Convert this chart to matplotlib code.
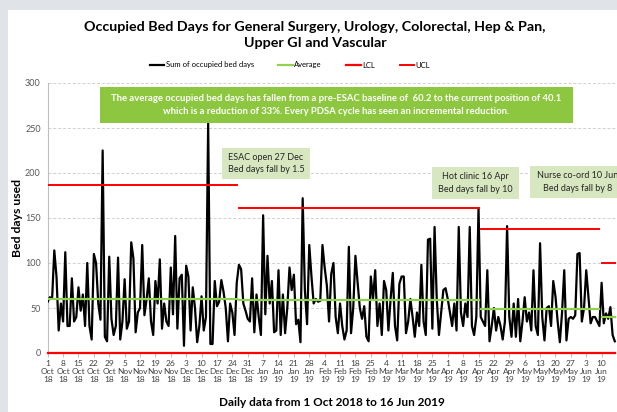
import numpy as np
import pandas as pd
import matplotlib
matplotlib.use('Agg')
import matplotlib.pyplot as plt
from matplotlib.patches import Rectangle

plt.rcParams['font.family'] = ['Lato', 'DejaVu Sans']

# daily data, 1 Oct 2018 - 16 Jun 2019
dates = pd.date_range('2018-10-01', '2019-06-16', freq='D')

beds_oct = [57, 62, 60, 114, 85, 25, 55, 35, 112, 30, 30, 83, 35, 40, 73, 47,
            65, 30, 100, 30, 15, 110, 100, 55, 37, 225, 18, 13, 107, 38, 20]
beds_nov = [30, 106, 15, 35, 82, 27, 35, 123, 105, 23, 45, 50, 120, 42, 60,
            83, 35, 20, 80, 55, 104, 27, 55, 35, 30, 95, 43, 130, 27, 83]
beds_dec = [87, 8, 97, 85, 25, 73, 50, 12, 30, 63, 25, 40, 255, 10, 10, 80,
            52, 57, 81, 68, 50, 13, 55, 45, 20, 78, 98, 93, 55, 47, 38]
beds_jan = [35, 83, 23, 65, 40, 20, 153, 43, 108, 55, 80, 23, 25, 92, 20, 65,
            22, 50, 95, 70, 87, 32, 37, 12, 172, 70, 32, 120, 85, 55, 60]
beds_feb = [57, 58, 120, 95, 75, 35, 88, 100, 40, 22, 55, 30, 15, 25, 118, 22,
            50, 108, 78, 50, 38, 52, 18, 13, 85, 60, 92, 30]
beds_mar = [55, 20, 80, 70, 25, 60, 89, 30, 14, 77, 85, 85, 22, 35, 60, 40,
            18, 45, 30, 98, 35, 20, 126, 127, 27, 140, 60, 20, 45, 70, 72]
beds_apr = [60, 45, 30, 55, 25, 140, 45, 30, 55, 40, 140, 30, 20, 40, 161, 40,
            35, 30, 92, 13, 30, 50, 25, 40, 30, 15, 35, 141, 40, 18]
beds_may = [55, 18, 60, 13, 35, 62, 35, 45, 25, 92, 30, 20, 122, 40, 14, 50,
            52, 30, 80, 63, 35, 12, 45, 92, 14, 38, 40, 38, 42, 110, 111]
beds_jun = [35, 50, 92, 62, 33, 40, 40, 35, 30, 78, 33, 44, 38, 51, 20, 13]

bed_days = np.array(beds_oct + beds_nov + beds_dec + beds_jan + beds_feb
                    + beds_mar + beds_apr + beds_may + beds_jun)

# process phases (ESAC, hot clinic, nurse co-ord)
phase_start = ['2018-10-01', '2018-12-27', '2019-04-16', '2019-06-10']
phase_end = ['2018-12-26', '2019-04-15', '2019-06-09', '2019-06-16']
phase_avg = [60.2, 58.7, 48.7, 40.1]
phase_ucl = [186.5, 161.5, 138.0, 100.5]
lcl = 0

W, H = 617, 412


def fx(px):
    return px / W


def fy(py):
    return 1 - py / H


fig = plt.figure(figsize=(W / 100, H / 100), dpi=100)
fig.patch.set_facecolor('#e0e3e8')
fig.patches.append(Rectangle((fx(8), 0), 1 - fx(8), fy(10), transform=fig.transFigure,
                             facecolor='white', edgecolor='none', zorder=-5))

ax = fig.add_axes([fx(47.7), fy(353), fx(617) - fx(47.7), fy(83) - fy(353)])
ax.set_facecolor('none')

x = np.arange(len(dates))
ax.plot(x, bed_days, color='black', lw=1.6, zorder=3, label='Sum of occupied bed days')

for i in range(len(phase_avg)):
    m = (dates >= phase_start[i]) & (dates <= phase_end[i])
    ax.plot(x[m], np.full(m.sum(), phase_avg[i]), color='#92d050', lw=1.6, zorder=4,
            label='Average' if i == 0 else None)
    ax.plot(x[m], np.full(m.sum(), phase_ucl[i]), color='#ff0000', lw=1.4, zorder=4,
            label='UCL' if i == 0 else None)
ax.plot(x, np.full(len(x), lcl), color='#ff0000', lw=1.6, zorder=5, label='LCL',
        clip_on=False)

ax.set_xlim(0, 259)
ax.set_ylim(0, 300)
ax.set_yticks(range(0, 301, 50))
ax.yaxis.grid(True, color='#d0d0d0', ls=(0, (3, 2)), lw=0.7)
ax.set_axisbelow(True)
for s in ['top', 'right', 'bottom']:
    ax.spines[s].set_visible(False)
ax.spines['left'].set_color('#bfbfbf')
ax.spines['left'].set_linewidth(0.8)

tick_dates = dates[::7]
tick_labels = [f"{d.day}\n{d.strftime('%b')}\n{d.strftime('%y')}" for d in tick_dates]
ax.set_xticks(x[::7])
ax.set_xticklabels(tick_labels, fontsize=6, color='#404040', linespacing=1.15)
ax.tick_params(axis='x', length=3, color='#bfbfbf', pad=2)
ax.tick_params(axis='y', length=0, labelsize=6.5, labelcolor='#595959', pad=5)

ax.set_ylabel('Bed days used', fontsize=8.8, fontweight='bold')
ax.yaxis.set_label_coords(-0.043, 0.5)
ax.set_xlabel('Daily data from 1 Oct 2018 to 16 Jun 2019', fontsize=8.5,
              fontweight='bold', labelpad=10)

fig.text(fx(315), fy(35), 'Occupied Bed Days for General Surgery, Urology, Colorectal, Hep & Pan,\n'
         'Upper GI and Vascular', ha='center', va='center', fontsize=10.3,
         fontweight='bold', linespacing=1.45)

h, l = ax.get_legend_handles_labels()
order = [l.index(k) for k in ['Sum of occupied bed days', 'Average', 'LCL', 'UCL']]
fig.legend([h[i] for i in order], [l[i] for i in order], loc='center',
           bbox_to_anchor=(fx(290), fy(65)), ncol=4, frameon=False, fontsize=5.5,
           handlelength=1.9, columnspacing=3.2, handletextpad=0.2)


def box(x0, y0, x1, y1, color, txt, tcolor, size, weight='normal'):
    fig.patches.append(Rectangle((fx(x0), fy(y1)), fx(x1) - fx(x0), fy(y0) - fy(y1),
                                 transform=fig.transFigure, facecolor=color,
                                 edgecolor='none', zorder=6))
    fig.text(fx((x0 + x1) / 2), fy((y0 + y1) / 2), txt, ha='center', va='center',
             color=tcolor, fontsize=size, fontweight=weight, zorder=7, linespacing=1.45)


box(100, 87, 573, 123, '#8dc63f',
    'The average occupied bed days has fallen from a pre-ESAC baseline of  60.2 to the current position of 40.1\n'
    'which is a reduction of 33%. Every PDSA cycle has seen an incremental reduction.',
    'white', 6.8, 'bold')
box(222, 148, 310, 179, '#d7e8c0', 'ESAC open 27 Dec\nBed days fall by 1.5', '#262626', 6.5)
box(432, 167, 519, 199, '#d7e8c0', 'Hot clinic 16 Apr\nBed days fall by 10', '#262626', 6.5)
box(530, 166, 625, 198, '#d7e8c0', 'Nurse co-ord 10 Jun\nBed days fall by 8', '#262626', 6.5)

fig.savefig('out.png', dpi=100)
